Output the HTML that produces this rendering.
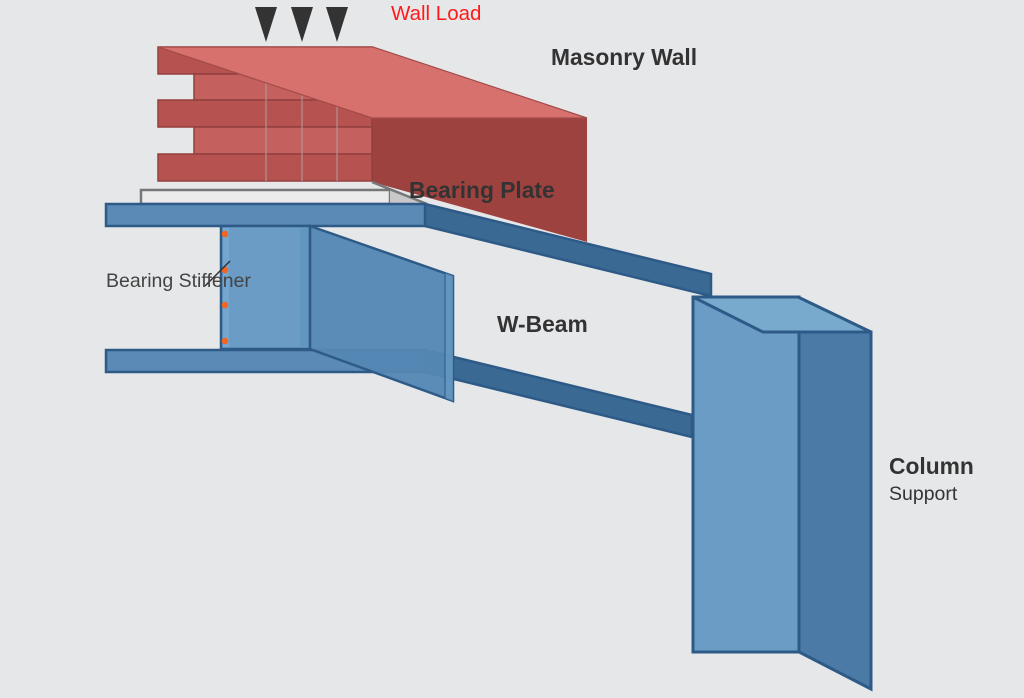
<!DOCTYPE html>
<html><head><meta charset="utf-8"><style>
html,body{margin:0;padding:0;background:#e6e7e9;}
svg{display:block;}
text{font-family:"Liberation Sans",Arial,sans-serif;}
</style></head><body>
<svg width="1024" height="698" viewBox="0 0 1024 698" xmlns="http://www.w3.org/2000/svg">
<rect width="1024" height="698" fill="#e6e7e9"/>

<!-- load arrows -->
<polygon points="255,7 277,7 266,42" fill="#333"/>
<polygon points="291,7 313,7 302,42" fill="#333"/>
<polygon points="326,7 348,7 337,42" fill="#333"/>
<text x="391" y="20" font-size="20.5" fill="#ff1a1a">Wall Load</text>

<!-- wall right face -->
<polygon points="372,118 587,118 587,242 372,182" fill="#9e4240"/>
<!-- bricks -->
<g stroke="#92403e" stroke-width="1.5">
<rect x="158" y="47" width="214" height="27" fill="#b65250"/>
<rect x="194" y="74" width="178" height="26" fill="#c4605e"/>
<rect x="158" y="100" width="214" height="27" fill="#b65250"/>
<rect x="194" y="127" width="178" height="27" fill="#c4605e"/>
<rect x="158" y="154" width="214" height="27" fill="#b65250"/>
</g>
<g stroke="#b0a0a0" stroke-width="1">
<line x1="266" y1="80" x2="266" y2="181"/>
<line x1="302" y1="92" x2="302" y2="181"/>
<line x1="337" y1="104" x2="337" y2="181"/>
</g>
<!-- wall top face -->
<polygon points="158,47 373,47 587,118 372,118" fill="#d6716e" stroke="#a34c4a" stroke-width="1.2"/>

<!-- bearing plate -->
<rect x="141" y="190" width="249" height="14" fill="#ebebeb" stroke="#777" stroke-width="2.5"/>
<polygon points="372,182 427,204 390,204 390,190" fill="#c8c8c8"/>
<line x1="372" y1="182" x2="427" y2="204" stroke="#777" stroke-width="2.5"/>

<!-- top flange side -->
<polygon points="425,204 711,274 711,296 425,226" fill="#3a6994" stroke="#2e5a87" stroke-width="2.5"/>
<!-- top flange front -->
<rect x="106" y="204" width="319" height="22" fill="#5a8ab5" stroke="#2e5a87" stroke-width="2.5"/>

<!-- bottom flange side -->
<polygon points="425,350 692,415 692,437 425,372" fill="#3a6994" stroke="#2e5a87" stroke-width="2.5"/>
<!-- bottom flange front -->
<rect x="106" y="350" width="319" height="22" fill="#5a8ab5" stroke="#2e5a87" stroke-width="2.5"/>

<!-- web front / stiffener -->
<rect x="221" y="226" width="89" height="123" fill="#6a9cc6" stroke="#2e5a87" stroke-width="2.5"/>
<rect x="223" y="228" width="6" height="119" fill="#75a6cf"/>
<rect x="300" y="228" width="8" height="119" fill="#6297c2"/>

<!-- web side panel -->
<polygon points="310,226 453,276 453,401 310,349" fill="#5587b4" fill-opacity="0.96" stroke="#2e5a87" stroke-width="2.5"/>
<polygon points="445,273 453,276 453,401 445,398" fill="#6497c2" fill-opacity="0.8"/>
<line x1="445" y1="273" x2="445" y2="398" stroke="#2e5a87" stroke-width="1.5" opacity="0.7"/>

<!-- stiffener dots -->
<g fill="#f26522">
<circle cx="225" cy="234" r="3.3"/>
<circle cx="225" cy="270" r="3.3"/>
<circle cx="225" cy="305" r="3.3"/>
<circle cx="225" cy="341" r="3.3"/>
</g>
<line x1="230" y1="261" x2="205" y2="286" stroke="#333" stroke-width="1.5"/>
<text x="106" y="287" font-size="19.5" fill="#444">Bearing Stiffener</text>

<!-- column -->
<rect x="693" y="297" width="106" height="355" fill="#6a9cc6" stroke="#2e5a87" stroke-width="3"/>
<polygon points="799,332 871,332 871,689 799,652" fill="#4a7aa5" stroke="#2e5a87" stroke-width="3"/>
<polygon points="693,297 798,297 871,332 763,332" fill="#78aace" stroke="#2e5a87" stroke-width="3" stroke-linejoin="round"/>

<!-- labels -->
<text x="551" y="65" font-size="22.8" font-weight="bold" fill="#333">Masonry Wall</text>
<text x="409" y="198" font-size="22.8" font-weight="bold" fill="#333">Bearing Plate</text>
<text x="497" y="332" font-size="22.8" font-weight="bold" fill="#333">W-Beam</text>
<text x="889" y="474" font-size="22.8" font-weight="bold" fill="#333">Column</text>
<text x="889" y="500" font-size="19.5" fill="#333">Support</text>
</svg>
</body></html>
